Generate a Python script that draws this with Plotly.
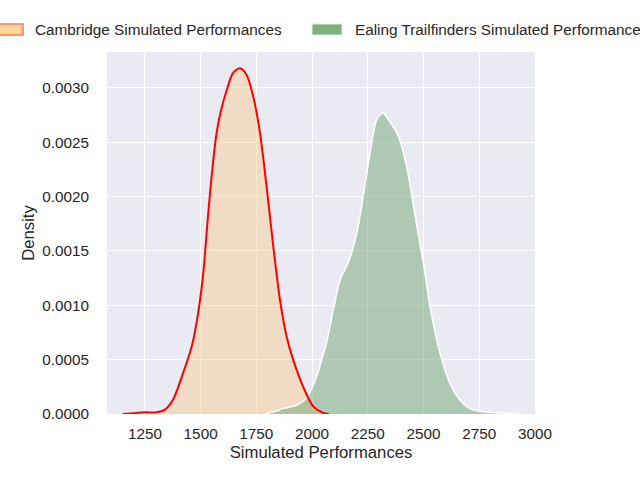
import plotly.graph_objects as go

# Cambridge KDE
cambridge_x = [1150, 1200, 1250, 1300, 1340, 1376, 1415, 1460, 1489, 1512, 1527, 1542, 1557,
               1572, 1590, 1617, 1646, 1676, 1706, 1736, 1766, 1796, 1826, 1856, 1886, 1915,
               1960, 2005, 2050, 2075]
cambridge_density = [0.0, 0.000008, 0.000015, 0.000015, 0.00004, 0.00013, 0.00034, 0.00062,
                     0.00093, 0.0013, 0.00167, 0.00203, 0.00234, 0.00259, 0.00278, 0.00298,
                     0.00314, 0.00318, 0.00312, 0.00292, 0.00259, 0.00209, 0.00154, 0.00105,
                     0.00071, 0.0005, 0.00025, 0.00007, 0.00001, 0.0]

# Ealing Trailfinders KDE
ealing_x = [1790, 1830, 1870, 1930, 1976, 2020, 2040, 2065, 2095, 2125, 2155, 2177, 2200, 2222,
            2245, 2267, 2290, 2317, 2349, 2390, 2424, 2445, 2476, 2500, 2529, 2574, 2619, 2663,
            2708, 2767, 2843, 2920]
ealing_density = [0.0, 0.00002, 0.00005, 0.00008, 0.00015, 0.00034, 0.00048, 0.00066, 0.00096,
                  0.00123, 0.00136, 0.00148, 0.00166, 0.00191, 0.00221, 0.00249, 0.00271,
                  0.00277, 0.00269, 0.00254, 0.00228, 0.00204, 0.00166, 0.00138, 0.00099,
                  0.00056, 0.00028, 0.00013, 0.00005, 0.00002, 0.00001, 0.0]

series_names = ["Cambridge Simulated Performances", "Ealing Trailfinders Simulated Performances"]
x_ticks = [1250, 1500, 1750, 2000, 2250, 2500, 2750, 3000]
y_ticks = [0.0, 0.0005, 0.001, 0.0015, 0.002, 0.0025, 0.003]

fig = go.Figure()

# Cambridge fill
fig.add_trace(go.Scatter(
    x=cambridge_x, y=cambridge_density, mode="lines", fill="tozeroy",
    line=dict(color="rgba(0,0,0,0)", width=0, shape="spline", smoothing=0.8),
    fillcolor="rgba(248,205,140,0.45)", showlegend=False, hoverinfo="skip"))

# Ealing fill with white edge
fig.add_trace(go.Scatter(
    x=ealing_x, y=ealing_density, mode="lines", fill="tozeroy",
    line=dict(color="white", width=1.6, shape="spline", smoothing=0.8),
    fillcolor="rgba(114,166,118,0.5)", showlegend=False))

# Cambridge red line
fig.add_trace(go.Scatter(
    x=cambridge_x, y=cambridge_density, mode="lines",
    line=dict(color="red", width=2, shape="spline", smoothing=0.8),
    showlegend=False))

# Custom legend (extends beyond figure like the reference)
def px2paper_x(px):
    return (px - 107) / 428.0

def py2paper_y(py):
    return (414 - py) / 362.0

shapes = [
    dict(type="rect", xref="paper", yref="paper",
         x0=px2paper_x(-7), x1=px2paper_x(23), y0=py2paper_y(35), y1=py2paper_y(24),
         fillcolor="rgb(255,214,152)", line=dict(color="rgb(246,122,110)", width=1.5)),
    dict(type="rect", xref="paper", yref="paper",
         x0=px2paper_x(312), x1=px2paper_x(342), y0=py2paper_y(35), y1=py2paper_y(24),
         fillcolor="rgb(125,176,125)", line=dict(color="rgb(225,238,225)", width=1)),
]
annotations = [
    dict(text=series_names[0], xref="paper", yref="paper", x=px2paper_x(33), y=py2paper_y(29.5),
         xanchor="left", yanchor="middle", showarrow=False,
         font=dict(size=15.3, color="#262626")),
    dict(text=series_names[1], xref="paper", yref="paper", x=px2paper_x(353), y=py2paper_y(29.5),
         xanchor="left", yanchor="middle", showarrow=False,
         font=dict(size=15.3, color="#262626")),
]

fig.update_layout(
    width=640, height=480,
    margin=dict(l=107, r=105, t=52, b=66),
    paper_bgcolor="white", plot_bgcolor="#EAEAF2",
    font=dict(family="Liberation Sans, Arial, sans-serif", color="#262626"),
    shapes=shapes, annotations=annotations, showlegend=False,
)
fig.update_xaxes(
    range=[1080, 3000], tickvals=x_ticks, ticktext=[str(v) for v in x_ticks],
    showgrid=True, gridcolor="white", gridwidth=1.3, zeroline=False, showline=False,
    ticks="outside", ticklen=6, tickcolor="rgba(0,0,0,0)",
    tickfont=dict(size=15.3, color="#262626"),
    title=dict(text="Simulated Performances", font=dict(size=16.7, color="#262626"), standoff=4),
)
fig.update_yaxes(
    range=[0, 0.00333], tickvals=y_ticks, ticktext=[f"{v:.4f}" for v in y_ticks],
    showgrid=True, gridcolor="white", gridwidth=1.3, zeroline=False, showline=False,
    ticks="outside", ticklen=14, tickcolor="rgba(0,0,0,0)",
    tickfont=dict(size=15.3, color="#262626"),
    title=dict(text="Density", font=dict(size=16.7, color="#262626"), standoff=3),
)

fig.write_html("out.html", config={"displayModeBar": False},
               post_script="document.body.style.margin='0';document.body.style.overflow='hidden';")
